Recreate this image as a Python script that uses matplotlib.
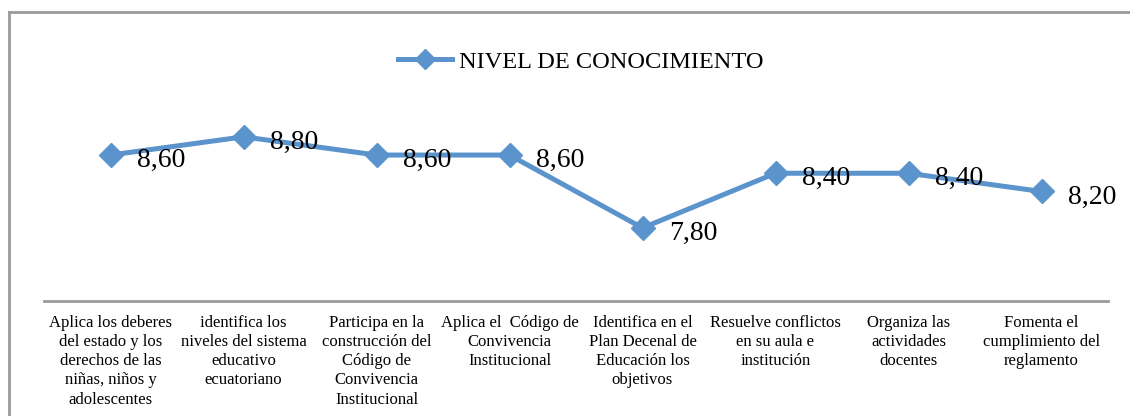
import matplotlib.pyplot as plt
from matplotlib.lines import Line2D

""" ****** Data read off the chart ****** """

categorias = [
    "Aplica los deberes\ndel estado y los\nderechos de las\nniñas, niños y\nadolescentes",
    "identifica los\nniveles del sistema\neducativo\necuatoriano",
    "Participa en la\nconstrucción del\nCódigo de\nConvivencia\nInstitucional",
    "Aplica el  Código de\nConvivencia\nInstitucional",
    "Identifica en el\nPlan Decenal de\nEducación los\nobjetivos",
    "Resuelve conflictos\nen su aula e\ninstitución",
    "Organiza las\nactividades\ndocentes",
    "Fomenta el\ncumplimiento del\nreglamento",
]
nivel = [8.60, 8.80, 8.60, 8.60, 7.80, 8.40, 8.40, 8.20]
serie = "NIVEL DE CONOCIMIENTO"

""" ****** Style ****** """

color = '#5B93CC'
gris = '#9A9A9A'
plt.rcParams['font.family'] = ['Liberation Serif', 'DejaVu Serif']

W, H = 1130, 416
fig = plt.figure(figsize=(W / 100, H / 100), dpi=100)

# plot area in pixel coords of the reference
left, right, top, bottom = 44, 1108, 118.6, 300.8
ax = fig.add_axes([left / W, 1 - bottom / H, (right - left) / W, (bottom - top) / H])

x = list(range(len(nivel)))
ax.plot(x, nivel, color=color, lw=3.6, marker='D', markersize=12.5,
        markerfacecolor=color, markeredgecolor=color, solid_joinstyle='miter')

# data labels to the right of each point
for xi, v in zip(x, nivel):
    ax.annotate(f"{v:.2f}".replace('.', ','), (xi, v), xytext=(19, -4),
                textcoords='offset points', ha='left', va='center', fontsize=20)

ax.set_xlim(-0.5, len(nivel) - 0.5)
ax.set_ylim(7.0, 9.0)
ax.set_xticks(x)
ax.set_xticklabels(categorias, fontsize=12, linespacing=1.27, va='top')
ax.tick_params(axis='x', length=0, pad=10)
ax.set_yticks([])
for s in ['top', 'left', 'right']:
    ax.spines[s].set_visible(False)
ax.spines['bottom'].set_color(gris)
ax.spines['bottom'].set_linewidth(2)

# legend on top
handle = Line2D([], [], color=color, lw=3.6, marker='D', markersize=10)
fig.legend([handle], [serie], loc='center', bbox_to_anchor=(581 / W, 1 - 61.5 / H),
           frameon=False, fontsize=17.6, handlelength=2.2, handletextpad=0.3)

# chart border (top and left visible in the crop)
fig.add_artist(Line2D([8.5 / W, 1], [1 - 12 / H, 1 - 12 / H], color=gris, lw=2))
fig.add_artist(Line2D([8.5 / W, 8.5 / W], [0, 1 - 12 / H], color=gris, lw=2))

plt.savefig('out.png', dpi=100)
